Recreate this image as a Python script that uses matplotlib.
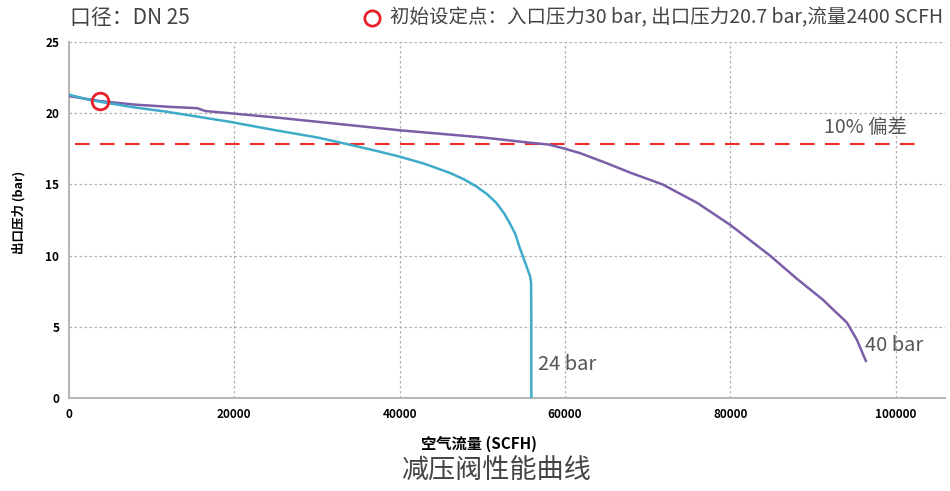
import matplotlib.pyplot as plt
from matplotlib.lines import Line2D

plt.rcParams['font.family'] = ['Noto Sans CJK SC', 'DejaVu Sans']

# 24 bar inlet curve
flow_24 = [0, 2000, 3750, 8000, 11850, 19400, 25000, 30000, 33100, 36500,
           40000, 43000, 46100, 47800, 49300, 50600, 51700, 52600, 53300,
           54000, 54500, 55000, 55500, 55800, 55900, 55930, 55930]
p_24 = [21.3, 21.0, 20.8, 20.4, 20.1, 19.4, 18.8, 18.3, 17.9, 17.45,
        16.95, 16.45, 15.8, 15.35, 14.85, 14.3, 13.7, 13.0, 12.3,
        11.5, 10.6, 9.8, 9.0, 8.5, 8.1, 6.0, 0]

# 40 bar inlet curve
flow_40 = [0, 3750, 8000, 12000, 15500, 16500, 19400, 25000, 30000, 40000,
           50000, 55700, 58000, 59700, 61800, 65000, 68000, 71800, 76000,
           80000, 84800, 88000, 91200, 93000, 94100, 95300, 96400]
p_40 = [21.2, 20.85, 20.6, 20.45, 20.35, 20.15, 20.0, 19.7, 19.4, 18.8,
        18.3, 17.93, 17.8, 17.55, 17.2, 16.5, 15.8, 15.0, 13.7,
        12.15, 10.0, 8.4, 6.9, 5.9, 5.3, 4.1, 2.6]

set_point = (3750, 20.85)
deviation = 17.85
x_ticks = [0, 20000, 40000, 60000, 80000, 100000]
y_ticks = [0, 5, 10, 15, 20, 25]

fig = plt.figure(figsize=(9.5, 4.91), dpi=100)
ax = fig.add_axes([0.0726, 0.1894, 0.9224, 0.7251])

ax.plot(flow_40, p_40, color='#7b5ea7', lw=1.8, zorder=3)
ax.plot(flow_24, p_24, color='#3fabc9', lw=1.8, zorder=3)
ax.axhline(deviation, xmin=0.007, xmax=0.967, color='#ee2a2a', lw=1.5,
           dashes=(7, 5), zorder=2)
ax.plot(*set_point, marker='o', ms=12, mfc='none', mec='#e8202a', mew=2, zorder=4)

ax.text(56700, 2.0, '24 bar', fontsize=14.5, color='#555555')
ax.text(96300, 3.3, '40 bar', fontsize=14.5, color='#555555')
ax.text(91300, 18.6, '10% 偏差', fontsize=14, color='#555555')

ax.set_xlim(0, 106000)
ax.set_ylim(0, 25)
ax.set_xticks(x_ticks)
ax.set_yticks(y_ticks)
ax.set_xticklabels([str(v) for v in x_ticks], fontsize=8.5, fontweight='bold')
ax.set_yticklabels([str(v) for v in y_ticks], fontsize=8.5, fontweight='bold')
ax.tick_params(length=0, pad=7)
ax.grid(True, color='#b0b0b0', ls=(0, (2, 2)), lw=0.9)

for s in ['top', 'right']:
    ax.spines[s].set_visible(False)
for s in ['left', 'bottom']:
    ax.spines[s].set_color('#b8b8b8')
    ax.spines[s].set_linewidth(1.5)

ax.set_xlabel('空气流量 (SCFH)', fontsize=11, fontweight='bold')
ax.xaxis.set_label_coords(0.468, -0.105)
ax.set_ylabel('出口压力 (bar)', fontsize=9, fontweight='bold')
ax.yaxis.set_label_coords(-0.05, 0.52)

fig.text(0.074, 0.963, '口径：DN 25', fontsize=15, color='#444444', va='center')
fig.add_artist(Line2D([0.3915], [0.963], marker='o', ms=11, mfc='none',
                      mec='#e8202a', mew=2, transform=fig.transFigure))
fig.text(0.41, 0.963, '初始设定点：入口压力30 bar, 出口压力20.7 bar,流量2400 SCFH',
         fontsize=14, color='#444444', va='center')
fig.text(0.523, 0.04, '减压阀性能曲线', fontsize=19.5, color='#444444',
         ha='center', va='center')

fig.savefig('out.png', dpi=100)
